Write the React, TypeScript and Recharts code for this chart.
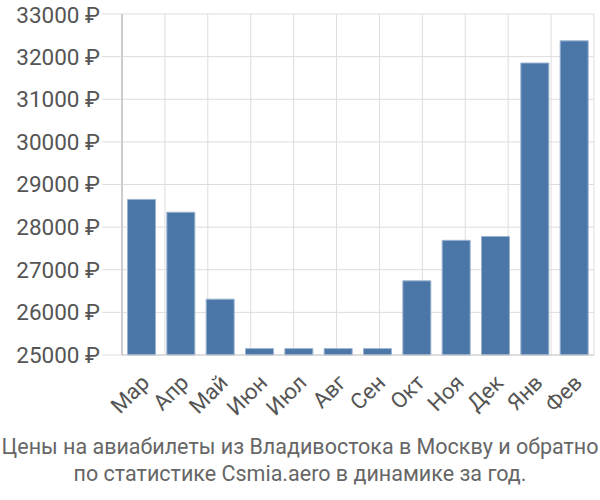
import { BarChart, Bar, XAxis, YAxis, CartesianGrid } from 'recharts';

const months = ['Мар', 'Апр', 'Май', 'Июн', 'Июл', 'Авг', 'Сен', 'Окт', 'Ноя', 'Дек', 'Янв', 'Фев'];
const prices = [28650, 28350, 26310, 25150, 25150, 25150, 25150, 26740, 27690, 27780, 31850, 32370];
const yTicks = [25000, 26000, 27000, 28000, 29000, 30000, 31000, 32000, 33000];
const edgeTicks = [0, 1, 2, 3, 4, 5, 6, 7, 8, 9, 10, 11, 12];
const titleLines = [
  'Цены на авиабилеты из Владивостока в Москву и обратно',
  'по статистике Csmia.aero в динамике за год.',
];

const FONT = 'Roboto, "Liberation Sans", Arial, sans-serif';
const TEXT = '#555';
const GRID = '#dddddd';

const data = months.map((m, i) => ({ month: m, price: prices[i] }));

const MonthTick = ({ x, y, payload }: any) => (
  <text
    x={x + 9}
    y={y + 21}
    transform={`rotate(-45, ${x + 9}, ${y + 21})`}
    textAnchor="end"
    fill={TEXT}
    fontSize={22}
    fontFamily={FONT}
  >
    {payload.value}
  </text>
);

const App = () => (
  <div style={{ position: 'absolute', left: 0, top: 0, width: 600, height: 500, background: '#fff' }}>
    <BarChart
      width={600}
      height={420}
      data={data}
      margin={{ top: 14, right: 6, left: 0, bottom: 0 }}
      barCategoryGap="14%"
    >
      <CartesianGrid xAxisId="edge" stroke={GRID} strokeWidth={1} />
      <XAxis
        xAxisId="edge"
        type="number"
        domain={[0, 12]}
        ticks={edgeTicks}
        height={0}
        axisLine={false}
        tickLine={{ stroke: GRID }}
        tickSize={15}
        tick={() => <g />}
      />
      <XAxis
        dataKey="month"
        height={65}
        axisLine={{ stroke: '#cccccc' }}
        tickLine={false}
        interval={0}
        tick={<MonthTick />}
      />
      <YAxis
        domain={[25000, 33000]}
        ticks={yTicks}
        width={122}
        axisLine={{ stroke: '#aaaaaa' }}
        tickLine={{ stroke: GRID }}
        tickSize={20}
        tickMargin={2}
        tickFormatter={(v: number) => `${v} ₽`}
        tick={{ fill: TEXT, fontSize: 22.5, fontFamily: FONT }}
      />
      <Bar dataKey="price" fill="#4a77a8" stroke="#9bb3d0" strokeWidth={1} isAnimationActive={false} />
    </BarChart>
    <div
      style={{
        position: 'absolute',
        left: 0,
        top: 433,
        width: 600,
        textAlign: 'center',
        whiteSpace: 'nowrap',
        fontFamily: FONT,
        fontSize: 21.5,
        lineHeight: '27px',
        color: '#666',
      }}
    >
      {titleLines.map((l) => (
        <div key={l}>{l}</div>
      ))}
    </div>
  </div>
);

export default App;
